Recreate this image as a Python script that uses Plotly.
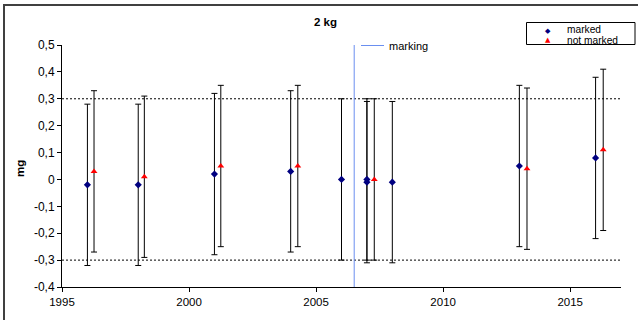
import plotly.graph_objects as go

# ---- data ----
marked_years = [1996, 1998, 2001, 2004, 2006, 2007, 2007, 2008, 2013, 2016]
marked_vals = [-0.02, -0.02, 0.02, 0.03, 0.0, 0.0, -0.01, -0.01, 0.05, 0.08]
marked_unc = [0.3, 0.3, 0.3, 0.3, 0.3, 0.3, 0.3, 0.3, 0.3, 0.3]

not_marked_years = [1996.26, 1998.24, 2001.25, 2004.28, 2007.29, 2013.3, 2016.3]
not_marked_vals = [0.03, 0.01, 0.05, 0.05, 0.0, 0.04, 0.11]
not_marked_unc = [0.3, 0.3, 0.3, 0.3, 0.3, 0.3, 0.3]

limit = 0.3
marking_year = 2006.5

y_tickvals = [-0.4, -0.3, -0.2, -0.1, 0, 0.1, 0.2, 0.3, 0.4, 0.5]
y_ticktext = ["-0,4", "-0,3", "-0,2", "-0,1", "0", "0,1", "0,2", "0,3", "0,4", "0,5"]
x_tickvals = [1995, 2000, 2005, 2010, 2015]

# ---- layout geometry (pixels) ----
W, H = 638, 320
L, R, T, B = 62, 621, 45, 287
def px_x(p):
    return (p - L) / (R - L)
def px_y(p):
    return (B - p) / (B - T)

FONT = "Liberation Sans, Arial, sans-serif"

fig = go.Figure()

fig.add_trace(go.Scatter(
    x=marked_years, y=marked_vals, mode="markers", name="marked",
    marker=dict(symbol="diamond", size=5.5, color="#000080"),
    error_y=dict(type="data", array=marked_unc, color="black", thickness=1, width=3),
    showlegend=False,
))
fig.add_trace(go.Scatter(
    x=not_marked_years, y=not_marked_vals, mode="markers", name="not marked",
    marker=dict(symbol="triangle-up", size=6, color="#ff0000"),
    error_y=dict(type="data", array=not_marked_unc, color="black", thickness=1, width=3),
    showlegend=False,
))

shapes = []
# dotted limits
for v in (limit, -limit):
    shapes.append(dict(type="line", xref="paper", yref="y", x0=0, x1=1, y0=v, y1=v,
                       line=dict(color="black", width=1, dash="2px,2px")))
# marking line
shapes.append(dict(type="line", xref="x", yref="y", x0=marking_year, x1=marking_year,
                   y0=-0.4, y1=0.5, line=dict(color="#6a8ff0", width=1)))
# marking legend segment
shapes.append(dict(type="line", xref="paper", yref="paper", x0=px_x(361), x1=px_x(384),
                   y0=px_y(45.5), y1=px_y(45.5), line=dict(color="#6a8ff0", width=1)))
# outer chart border (cropped on right and bottom)
shapes.append(dict(type="rect", xref="paper", yref="paper", x0=px_x(4), x1=px_x(660),
                   y0=px_y(340), y1=px_y(5), line=dict(color="#404040", width=2)))
# legend box
shapes.append(dict(type="rect", xref="paper", yref="paper", x0=px_x(526.5), x1=px_x(635),
                   y0=px_y(44.5), y1=px_y(22.5), line=dict(color="black", width=1)))

annotations = [
    dict(text="<b>2 kg</b>", xref="paper", yref="paper", x=px_x(325), y=px_y(22),
         showarrow=False, font=dict(family=FONT, size=11.5, color="black"),
         xanchor="center", yanchor="middle"),
    dict(text="<b>mg</b>", xref="paper", yref="paper", x=px_x(20), y=px_y(168),
         showarrow=False, textangle=-90, font=dict(family=FONT, size=11.5, color="black"),
         xanchor="center", yanchor="middle"),
    dict(text="marking", xref="paper", yref="paper", x=px_x(387), y=px_y(46),
         showarrow=False, font=dict(family=FONT, size=11, color="black"),
         xanchor="left", yanchor="middle"),
    dict(text="◆", xref="paper", yref="paper", x=px_x(547.5), y=px_y(30.5),
         showarrow=False, font=dict(family="DejaVu Sans", size=7, color="#000080"),
         xanchor="center", yanchor="middle"),
    dict(text="▲", xref="paper", yref="paper", x=px_x(547.5), y=px_y(39.5),
         showarrow=False, font=dict(family="DejaVu Sans", size=7, color="#ff0000"),
         xanchor="center", yanchor="middle"),
    dict(text="marked", xref="paper", yref="paper", x=px_x(565), y=px_y(29.6),
         showarrow=False, font=dict(family=FONT, size=10.2, color="black"),
         xanchor="left", yanchor="middle"),
    dict(text="not marked", xref="paper", yref="paper", x=px_x(565), y=px_y(40.4),
         showarrow=False, font=dict(family=FONT, size=10.2, color="black"),
         xanchor="left", yanchor="middle"),
]

fig.update_layout(
    width=W, height=H,
    margin=dict(l=L, r=W - R, t=T, b=H - B),
    paper_bgcolor="white", plot_bgcolor="white",
    font=dict(family=FONT, size=11, color="black"),
    shapes=shapes, annotations=annotations,
    showlegend=False,
)
fig.update_xaxes(range=[1995, 2017], tickvals=x_tickvals, ticks="outside", ticklen=4,
                 tickcolor="black", showline=True, linecolor="black", linewidth=1,
                 showgrid=False, zeroline=False, tickfont=dict(size=11.5))
fig.update_yaxes(range=[-0.4, 0.5], tickvals=y_tickvals, ticktext=y_ticktext,
                 ticks="outside", ticklen=4, tickcolor="black", showline=True,
                 linecolor="black", linewidth=1, showgrid=False, zeroline=False,
                 tickfont=dict(size=12))

fig.write_html("out.html")
